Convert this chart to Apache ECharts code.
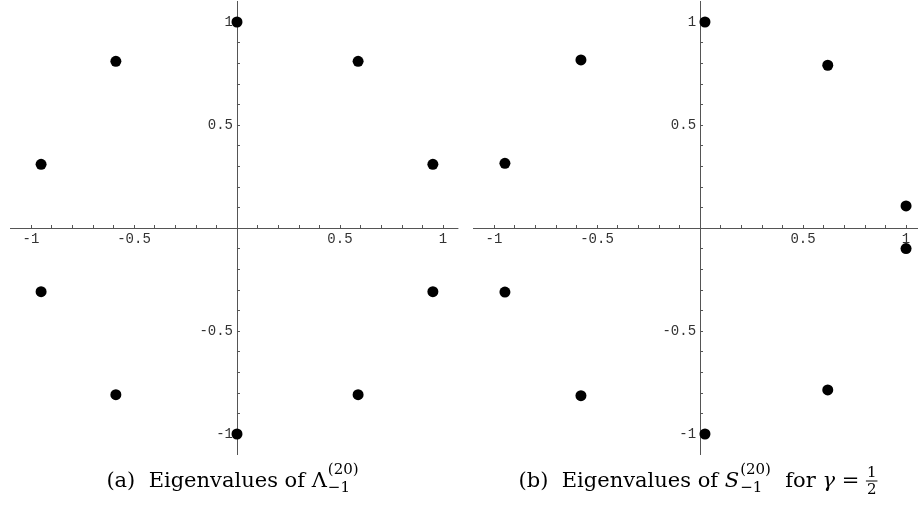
<!DOCTYPE html>
<html>
<head>
<meta charset="utf-8">
<script src="https://cdn.jsdelivr.net/npm/echarts@6/dist/echarts.min.js"></script>
<style>
  html, body { margin: 0; padding: 0; background: #fff; }
  #chart { width: 918px; height: 506px; }
</style>
</head>
<body>
<div id="chart"></div>
<script>
// (a) eigenvalues of Lambda, real and imaginary parts
const aRe = [0, 0.588, 0.951, 0.951, 0.588, 0, -0.588, -0.951, -0.951, -0.588]
const aIm = [1, 0.809, 0.309, -0.309, -0.809, -1, -0.809, -0.309, 0.309, 0.809]
// (b) eigenvalues of S for gamma = 1/2
const bRe = [0.024, 0.62, 1.0, 1.0, 0.62, 0.024, -0.578, -0.947, -0.947, -0.578]
const bIm = [1.0, 0.79, 0.107, -0.10, -0.786, -1.0, -0.814, -0.311, 0.314, 0.816]

const axisLabels = [-1, -0.5, 0.5, 1]
const tickValues = [-1, -0.9, -0.8, -0.7, -0.6, -0.5, -0.4, -0.3, -0.2, -0.1,
                    0.1, 0.2, 0.3, 0.4, 0.5, 0.6, 0.7, 0.8, 0.9, 1]

const zip = (xs, ys) => xs.map((x, i) => [x, ys[i]])

// axes are moved onto the origin with a negative offset (grid is symmetric about 0 vertically)
const H = 453.2, TOP = 1.4
function axis(grid, min, max, pos, offset) {
  return {
    type: 'value', gridIndex: grid, min: min, max: max, position: pos, offset: offset,
    axisLine: { onZero: false, lineStyle: { color: '#555', width: 1 } },
    axisTick: { inside: true, length: 3, customValues: tickValues, lineStyle: { color: '#555' } },
    axisLabel: {
      customValues: axisLabels, margin: 4,
      fontFamily: 'Liberation Mono', fontSize: 14, color: '#333'
    },
    splitLine: { show: false }
  }
}

// captions: measure pieces so super/subscripts sit after the text
const ctx = document.createElement('canvas').getContext('2d')
const SERIF = 'DejaVu Serif'
const font = (size, it) => (it ? 'italic ' : '') + size + 'px "' + SERIF + '"'
const tw = (t, f) => { ctx.font = f; return ctx.measureText(t).width }
const MAIN = 21, SMALL = 15

function caption(parts, cx, base) {
  const items = []
  let x = 0
  parts.forEach(p => {
    if (p.t !== undefined) {
      items.push({ x: x, y: 0, t: p.t, s: MAIN, it: p.it })
      x += tw(p.t, font(MAIN, p.it))
    } else if (p.sup) {
      items.push({ x: x + 1, y: -13, t: p.sup, s: SMALL })
      items.push({ x: x + 1, y: 5, t: p.sub, s: SMALL })
      x += Math.max(tw(p.sup, font(SMALL)), tw(p.sub, font(SMALL))) + 2
    } else if (p.num) {
      const fw = Math.max(tw(p.num, font(SMALL)), tw(p.den, font(SMALL))) + 2
      items.push({ x: x + fw / 2, y: -10, t: p.num, s: SMALL, c: true })
      items.push({ x: x + fw / 2, y: 7, t: p.den, s: SMALL, c: true })
      items.push({ bar: true, x: x, w: fw, y: -7 })
      x += fw
    }
  })
  const x0 = cx - x / 2
  return items.map(it => it.bar ? {
    type: 'line', silent: true,
    shape: { x1: x0 + it.x, y1: base + it.y, x2: x0 + it.x + it.w, y2: base + it.y },
    style: { stroke: '#000', lineWidth: 1 }
  } : {
    type: 'text', silent: true,
    style: {
      // y given as baseline; 'middle' sits about 0.32em above it
      x: x0 + it.x, y: base + it.y - 0.32 * it.s, text: it.t, font: font(it.s, it.it), fill: '#000',
      align: it.c ? 'center' : 'left', verticalAlign: 'middle'
    }
  })
}

const capA = caption([
  { t: '(a)  Eigenvalues of Λ' }, { sup: '(20)', sub: '−1' }
], 233, 488)
const capB = caption([
  { t: '(b)  Eigenvalues of ' }, { t: 'S', it: true }, { sup: '(20)', sub: '−1' },
  { t: '  for ' }, { t: 'γ', it: true }, { t: ' = ' }, { num: '1', den: '2' }
], 698, 488)

const chart = echarts.init(document.getElementById('chart'))
chart.setOption({
  animation: false,
  backgroundColor: '#fff',
  grid: [
    { left: 10.4, top: TOP, width: 447.6, height: H, containLabel: false, outerBoundsMode: 'none' },
    { left: 473.4, top: TOP, width: 444.6, height: H, containLabel: false, outerBoundsMode: 'none' }
  ],
  xAxis: [axis(0, -1.1, 1.073, 'bottom', -H / 2), axis(1, -1.1, 1.058, 'bottom', -H / 2)],
  yAxis: [axis(0, -1.1, 1.1, 'left', -1.1 / 2.173 * 447.6), axis(1, -1.1, 1.1, 'left', -1.1 / 2.158 * 444.6)],
  series: [
    { type: 'scatter', xAxisIndex: 0, yAxisIndex: 0, data: zip(aRe, aIm),
      symbolSize: 11, itemStyle: { color: '#000', opacity: 1 }, silent: true },
    { type: 'scatter', xAxisIndex: 1, yAxisIndex: 1, data: zip(bRe, bIm),
      symbolSize: 11, itemStyle: { color: '#000', opacity: 1 }, silent: true }
  ],
  graphic: capA.concat(capB)
})
</script>
</body>
</html>
